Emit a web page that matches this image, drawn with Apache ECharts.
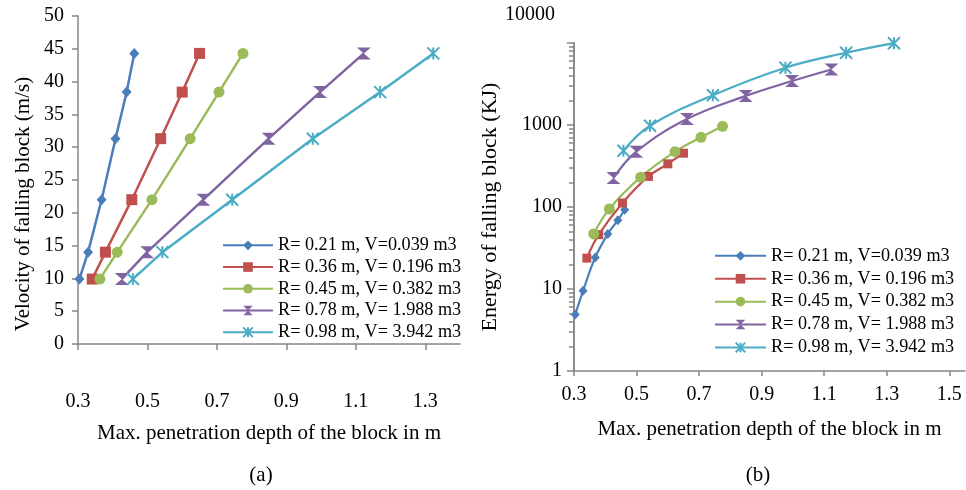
<!DOCTYPE html>
<html>
<head>
<meta charset="utf-8">
<script src="https://cdn.jsdelivr.net/npm/echarts@6/dist/echarts.min.js"></script>
<style>
html,body{margin:0;padding:0;background:#fff;}
#c{width:966px;height:490px;}
</style>
</head>
<body>
<div id="c"></div>
<script>
const seriesNames = ['R= 0.21 m, V=0.039 m3', 'R= 0.36 m, V= 0.196 m3', 'R= 0.45 m, V= 0.382 m3', 'R= 0.78 m, V= 1.988 m3', 'R= 0.98 m, V= 3.942 m3'];
const velocity = [9.9, 14.0, 22.0, 31.3, 38.4, 44.3];
const depth021 = [0.304, 0.329, 0.368, 0.408, 0.440, 0.462];
const depth036 = [0.341, 0.379, 0.455, 0.538, 0.600, 0.650];
const depth045 = [0.363, 0.413, 0.513, 0.623, 0.706, 0.775];
const depth078 = [0.426, 0.499, 0.661, 0.849, 0.997, 1.123];
const depth098 = [0.458, 0.543, 0.744, 0.976, 1.170, 1.323];
const energy021 = [4.9, 9.5, 24.3, 46.8, 69, 92.5];
const energy036 = [23.8, 46, 112, 236, 336, 453];
const energy045 = [47, 94.6, 231, 473, 708, 964];
const energy078 = [225, 473, 1183, 2265, 3435, 4750];
const energy098 = [486, 980, 2307, 5000, 7600, 9950];
const xTicksA = [0.3, 0.5, 0.7, 0.9, 1.1, 1.3];
const xTicksB = [0.3, 0.5, 0.7, 0.9, 1.1, 1.3, 1.5];
const yMinorB = [2,3,4,5,6,7,8,9,20,30,40,50,60,70,80,90,200,300,400,500,600,700,800,900,2000,3000,4000,5000,6000,7000,8000,9000];

const colors = ['#4A7EBB', '#C0504D', '#9BBB59', '#8064A2', '#4BACC6'];
const depths = [depth021, depth036, depth045, depth078, depth098];
const energies = [energy021, energy036, energy045, energy078, energy098];
const FONT = 'Liberation Serif';
const hourglass = 'path://M0,0L12,0L6,5L12,10L0,10L6,5Z';
const star = 'path://M0,0L10,10M10,0L0,10M5,0L5,10';
const symbolsA = ['diamond', 'rect', 'circle', hourglass, star];
const sizesA = [[10, 11], 11, 11, [14, 12], 12];
const sizesB = [[9, 10], 9, 11, [14, 12], 12];

function pairs(xs, ys) { return xs.map((x, i) => [x, ys[i]]); }

const series = [];
for (let i = 0; i < 5; i++) {
  const isStar = i === 4;
  series.push({
    name: seriesNames[i], type: 'line', xAxisIndex: 0, yAxisIndex: 0,
    data: pairs(depths[i], velocity),
    symbol: symbolsA[i], symbolSize: sizesA[i],
    lineStyle: { color: colors[i], width: 2.5 },
    itemStyle: { color: colors[i], borderColor: colors[i], borderWidth: isStar ? 2 : 0 },
    animation: false
  });
}
for (let i = 0; i < 5; i++) {
  const isStar = i === 4;
  series.push({
    name: seriesNames[i] + ' ', type: 'line', xAxisIndex: 1, yAxisIndex: 1,
    data: pairs(depths[i], energies[i]),
    smooth: 0.4,
    symbol: symbolsA[i], symbolSize: sizesB[i],
    lineStyle: { color: colors[i], width: 2.2 },
    itemStyle: { color: colors[i], borderColor: colors[i], borderWidth: isStar ? 2 : 0 },
    animation: false
  });
}

const axisGray = '#868686';
const txt = { fontFamily: FONT, fontSize: 20, color: '#000' };

const chart = echarts.init(document.getElementById('c'), null, { renderer: 'canvas' });
chart.setOption({
  animation: false,
  grid: [
    { left: 78, top: 16, width: 382, height: 328, containLabel: false },
    { left: 574, top: 43, width: 391, height: 328, containLabel: false }
  ],
  xAxis: [
    {
      gridIndex: 0, type: 'value', min: 0.3, max: 1.4,
      name: 'Max. penetration depth of the block in m', nameLocation: 'middle', nameGap: 79,
      nameTextStyle: { fontFamily: FONT, fontSize: 21, color: '#000' },
      axisLine: { lineStyle: { color: axisGray, width: 1.5 } },
      axisTick: { show: true, length: 6, lineStyle: { color: axisGray, width: 1.5 }, customValues: xTicksA },
      axisLabel: { ...txt, margin: 48, customValues: xTicksA, formatter: v => v.toFixed(1) },
      splitLine: { show: false }
    },
    {
      gridIndex: 1, type: 'value', min: 0.3, max: 1.55,
      name: 'Max. penetration depth of the block in m', nameLocation: 'middle', nameGap: 48,
      nameTextStyle: { fontFamily: FONT, fontSize: 21, color: '#000' },
      axisLine: { lineStyle: { color: axisGray, width: 1.5 } },
      axisTick: { show: true, length: 5, lineStyle: { color: axisGray, width: 1.5 }, customValues: xTicksB },
      axisLabel: { ...txt, margin: 14, customValues: xTicksB, formatter: v => v.toFixed(1) },
      splitLine: { show: false }
    }
  ],
  yAxis: [
    {
      gridIndex: 0, type: 'value', min: 0, max: 50, interval: 5, position: 'left',
      name: 'Velocity of falling block (m/s)', nameLocation: 'middle', nameGap: 44,
      nameTextStyle: { fontFamily: FONT, fontSize: 21, color: '#000', padding: [0, 48, 0, 0] },
      axisLine: { show: true, lineStyle: { color: axisGray, width: 1.5 } },
      axisTick: { show: true, length: 6, lineStyle: { color: axisGray, width: 1.5 } },
      axisLabel: { ...txt, margin: 14 },
      splitLine: { show: false }
    },
    {
      gridIndex: 1, type: 'log', logBase: 10, min: 1, max: 10000, position: 'left',
      name: 'Energy of falling block (KJ)', nameLocation: 'middle', nameGap: 56,
      nameTextStyle: { fontFamily: FONT, fontSize: 22, color: '#000' },
      axisLine: { show: true, lineStyle: { color: axisGray, width: 1.5 } },
      axisTick: { show: true, length: 7, lineStyle: { color: axisGray, width: 1.5 } },
      axisLabel: {
        ...txt, margin: 12,
        formatter: v => (Math.round(v) === 10000 ? '{t|10000}' : String(Math.round(v))),
        rich: { t: { fontFamily: FONT, fontSize: 20, color: '#000', padding: [0, 7, 56, 0] } }
      },
      splitLine: { show: false }
    },
    {
      // exponent scale (log10 of energy), same grid, drawn on the left edge, used only for minor log ticks
      gridIndex: 1, type: 'value', min: 0, max: 4, position: 'right', offset: -391,
      axisLine: { show: true, lineStyle: { color: axisGray, width: 1.5 } },
      axisTick: { show: true, inside: true, length: 5, lineStyle: { color: axisGray, width: 1.5 }, customValues: yMinorB.map(v => Math.log10(v)) },
      axisLabel: { show: false },
      splitLine: { show: false }
    }
  ],
  legend: [
    {
      data: seriesNames, orient: 'vertical', left: 222, top: 236, padding: 0,
      itemWidth: 50, itemHeight: 12, itemGap: 3,
      textStyle: { fontFamily: FONT, fontSize: 18.2, color: '#000', lineHeight: 18.7 },
      selectedMode: false
    },
    {
      data: seriesNames.map(n => n + ' '), orient: 'vertical', left: 714, top: 246.5, padding: 0,
      itemWidth: 51, itemHeight: 12, itemGap: 4.2,
      formatter: n => n.trim(),
      textStyle: { fontFamily: FONT, fontSize: 18.2, color: '#000', lineHeight: 18.7 },
      selectedMode: false
    }
  ],
  graphic: [
    { type: 'text', x: 261, y: 475, style: { text: '(a)', fontFamily: FONT, fontSize: 21, fill: '#000', textAlign: 'center', textVerticalAlign: 'middle' } },
    { type: 'text', x: 758, y: 475, style: { text: '(b)', fontFamily: FONT, fontSize: 21, fill: '#000', textAlign: 'center', textVerticalAlign: 'middle' } }
  ],
  series: series
});
</script>
</body>
</html>
